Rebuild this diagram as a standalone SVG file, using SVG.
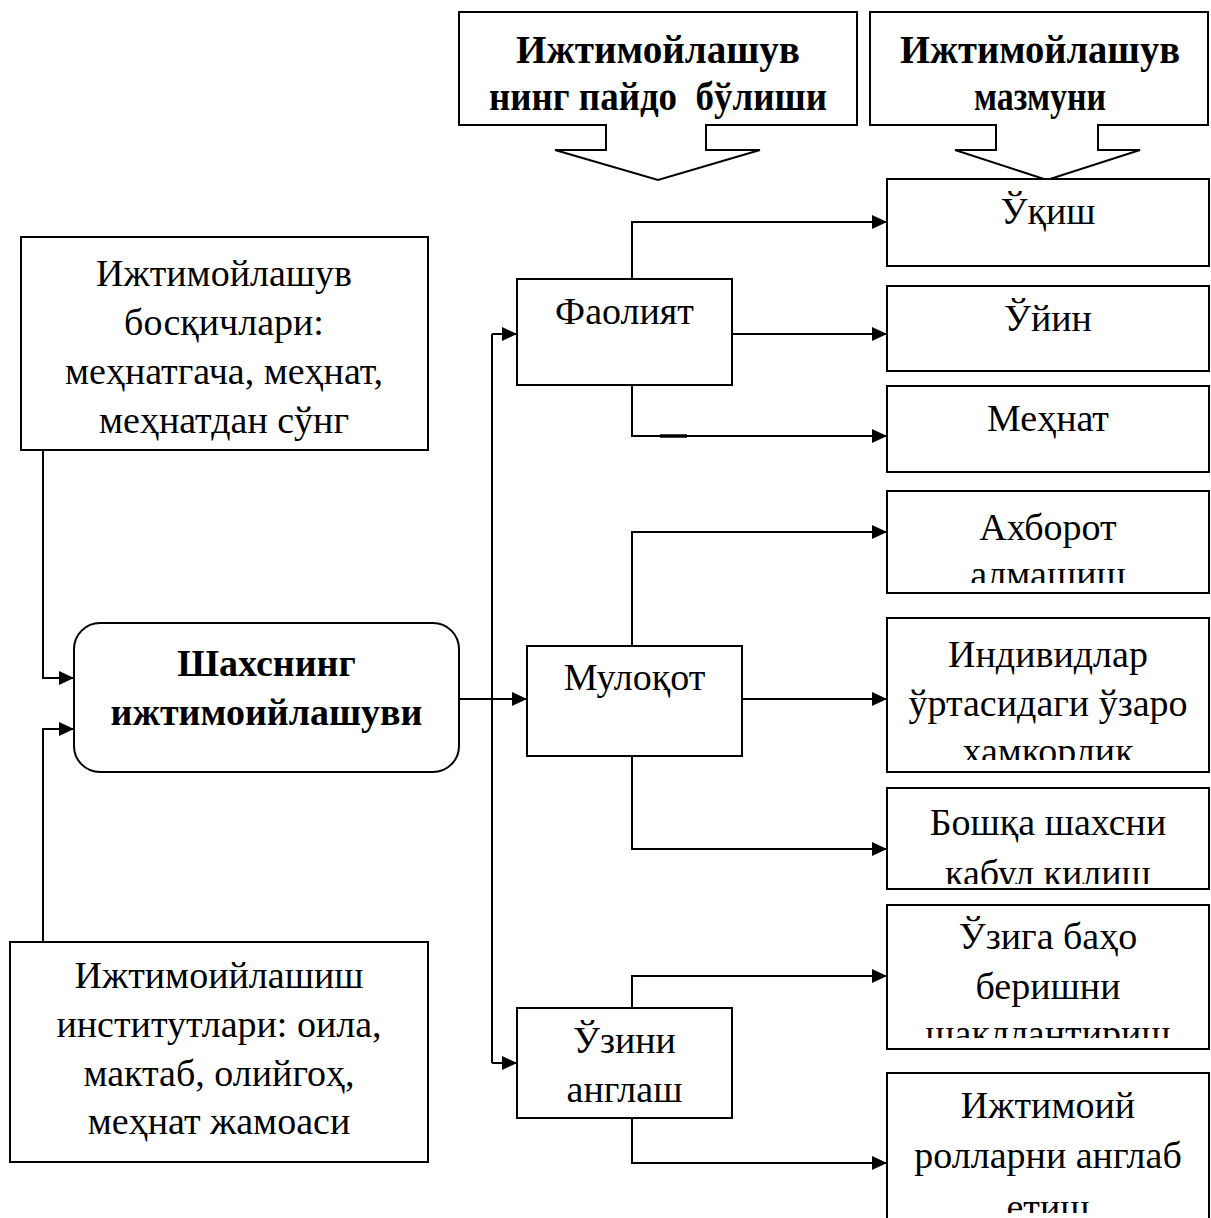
<svg xmlns="http://www.w3.org/2000/svg" width="1211" height="1218" viewBox="0 0 1211 1218">
  <style>
    .box { fill: #fff; stroke: #000; stroke-width: 2; }
    .t { font-family: "Liberation Serif", "Times New Roman", serif; font-size: 38px; fill: #000; text-anchor: middle; }
    .b { font-weight: bold; }
    .h { font-size: 41px; }
    .ln { fill: none; stroke: #000; stroke-width: 2; }
    .arr { marker-end: url(#ah); }
  </style>
  <defs>
    <marker id="ah" markerUnits="userSpaceOnUse" markerWidth="16" markerHeight="14" refX="15" refY="7" orient="auto">
      <path d="M0,0 L15,7 L0,14 Z" fill="#000"/>
    </marker>
    <clipPath id="c-axborot"><rect x="887" y="491" width="322" height="92"/></clipPath>
    <clipPath id="c-ind"><rect x="887" y="618" width="322" height="142"/></clipPath>
    <clipPath id="c-boshqa"><rect x="887" y="788" width="322" height="96"/></clipPath>
    <clipPath id="c-uziga"><rect x="887" y="905" width="322" height="133"/></clipPath>
    <clipPath id="c-roll"><rect x="887" y="1073" width="322" height="140"/></clipPath>
  </defs>

  <!-- header callouts (condensed bold headings) -->
  <g id="callout-origin">
    <path class="box" d="M459,12 H857 V125 H706 V150 H760 L658,180 L555,150 H606 V125 H459 Z"/>
    <text class="t b h" x="658" y="63" textLength="284" lengthAdjust="spacingAndGlyphs">Ижтимойлашув</text>
    <text class="t b h" x="658" y="110" xml:space="preserve" textLength="338" lengthAdjust="spacingAndGlyphs">нинг пайдо  бўлиши</text>
  </g>
  <g id="callout-content">
    <path class="box" d="M870,12 H1208 V125 H1098 V150 H1140 L1047,180 L955,150 H996 V125 H870 Z"/>
    <text class="t b h" x="1040" y="63" textLength="280" lengthAdjust="spacingAndGlyphs">Ижтимойлашув</text>
    <text class="t b h" x="1040" y="110" textLength="132" lengthAdjust="spacingAndGlyphs">мазмуни</text>
  </g>

  <!-- connectors -->
  <g id="connectors">
    <path class="ln arr" d="M43,450 V678 H74"/>
    <path class="ln arr" d="M43,942 V729 H74"/>
    <path class="ln arr" d="M459,699 H527"/>
    <path class="ln" d="M492,334 V1063"/>
    <path class="ln arr" d="M492,334 H517"/>
    <path class="ln arr" d="M492,1063 H517"/>
    <path class="ln arr" d="M632,279 V222 H887"/>
    <path class="ln arr" d="M732,334 H887"/>
    <path class="ln arr" d="M632,385 V436 H887"/>
    <path d="M660,436 H687" stroke="#000" stroke-width="3.5"/>
    <path class="ln arr" d="M632,646 V532 H887"/>
    <path class="ln arr" d="M742,699 H887"/>
    <path class="ln arr" d="M632,756 V849 H887"/>
    <path class="ln arr" d="M632,1008 V976 H887"/>
    <path class="ln arr" d="M632,1118 V1163 H887"/>
  </g>

  <!-- left column -->
  <g id="stages">
    <rect class="box" x="21" y="237" width="407" height="213"/>
    <text class="t" x="224" y="286">Ижтимойлашув</text>
    <text class="t" x="224" y="335">босқичлари:</text>
    <text class="t" x="224" y="384">меҳнатгача, меҳнат,</text>
    <text class="t" x="224" y="433">меҳнатдан сўнг</text>
  </g>
  <g id="socialization">
    <rect class="box" x="74" y="623" width="385" height="149" rx="26" ry="26"/>
    <text class="t b" x="266.5" y="676">Шахснинг</text>
    <text class="t b" x="266.5" y="725">ижтимоийлашуви</text>
  </g>
  <g id="institutions">
    <rect class="box" x="10" y="942" width="418" height="220"/>
    <text class="t" x="219" y="988">Ижтимоийлашиш</text>
    <text class="t" x="219" y="1037">институтлари: оила,</text>
    <text class="t" x="219" y="1086">мактаб, олийгоҳ,</text>
    <text class="t" x="219" y="1134">меҳнат жамоаси</text>
  </g>

  <!-- middle column -->
  <g id="activity">
    <rect class="box" x="517" y="279" width="215" height="106"/>
    <text class="t" x="624.5" y="324">Фаолият</text>
  </g>
  <g id="communication">
    <rect class="box" x="527" y="646" width="215" height="110"/>
    <text class="t" x="634.5" y="690">Мулоқот</text>
  </g>
  <g id="self-awareness">
    <rect class="box" x="517" y="1008" width="215" height="110"/>
    <text class="t" x="624.5" y="1053">Ўзини</text>
    <text class="t" x="624.5" y="1102">англаш</text>
  </g>

  <!-- right column -->
  <g id="study">
    <rect class="box" x="887" y="179" width="322" height="87"/>
    <text class="t" x="1048" y="224">Ўқиш</text>
  </g>
  <g id="play">
    <rect class="box" x="887" y="286" width="322" height="85"/>
    <text class="t" x="1048" y="331">Ўйин</text>
  </g>
  <g id="labour">
    <rect class="box" x="887" y="386" width="322" height="86"/>
    <text class="t" x="1048" y="431">Меҳнат</text>
  </g>
  <g id="info-exchange">
    <rect class="box" x="887" y="491" width="322" height="102"/>
    <g clip-path="url(#c-axborot)">
      <text class="t" x="1048" y="540">Ахборот</text>
      <text class="t" x="1048" y="587">алмашиш</text>
    </g>
  </g>
  <g id="interaction">
    <rect class="box" x="887" y="618" width="322" height="154"/>
    <g clip-path="url(#c-ind)">
      <text class="t" x="1048" y="667">Индивидлар</text>
      <text class="t" x="1048" y="716">ўртасидаги ўзаро</text>
      <text class="t" x="1048" y="764">хамкорлик</text>
    </g>
  </g>
  <g id="acceptance">
    <rect class="box" x="887" y="788" width="322" height="101"/>
    <g clip-path="url(#c-boshqa)">
      <text class="t" x="1048" y="835">Бошқа шахсни</text>
      <text class="t" x="1048" y="886">кабул килиш</text>
    </g>
  </g>
  <g id="self-esteem">
    <rect class="box" x="887" y="905" width="322" height="144"/>
    <g clip-path="url(#c-uziga)">
      <text class="t" x="1048" y="949">Ўзига баҳо</text>
      <text class="t" x="1048" y="999">беришни</text>
      <text class="t" x="1048" y="1046">шакллантириш</text>
    </g>
  </g>
  <g id="roles">
    <rect class="box" x="887" y="1073" width="322" height="160"/>
    <g clip-path="url(#c-roll)">
      <text class="t" x="1048" y="1118">Ижтимоий</text>
      <text class="t" x="1048" y="1168">ролларни англаб</text>
      <text class="t" x="1048" y="1220">етиш</text>
    </g>
  </g>
</svg>
